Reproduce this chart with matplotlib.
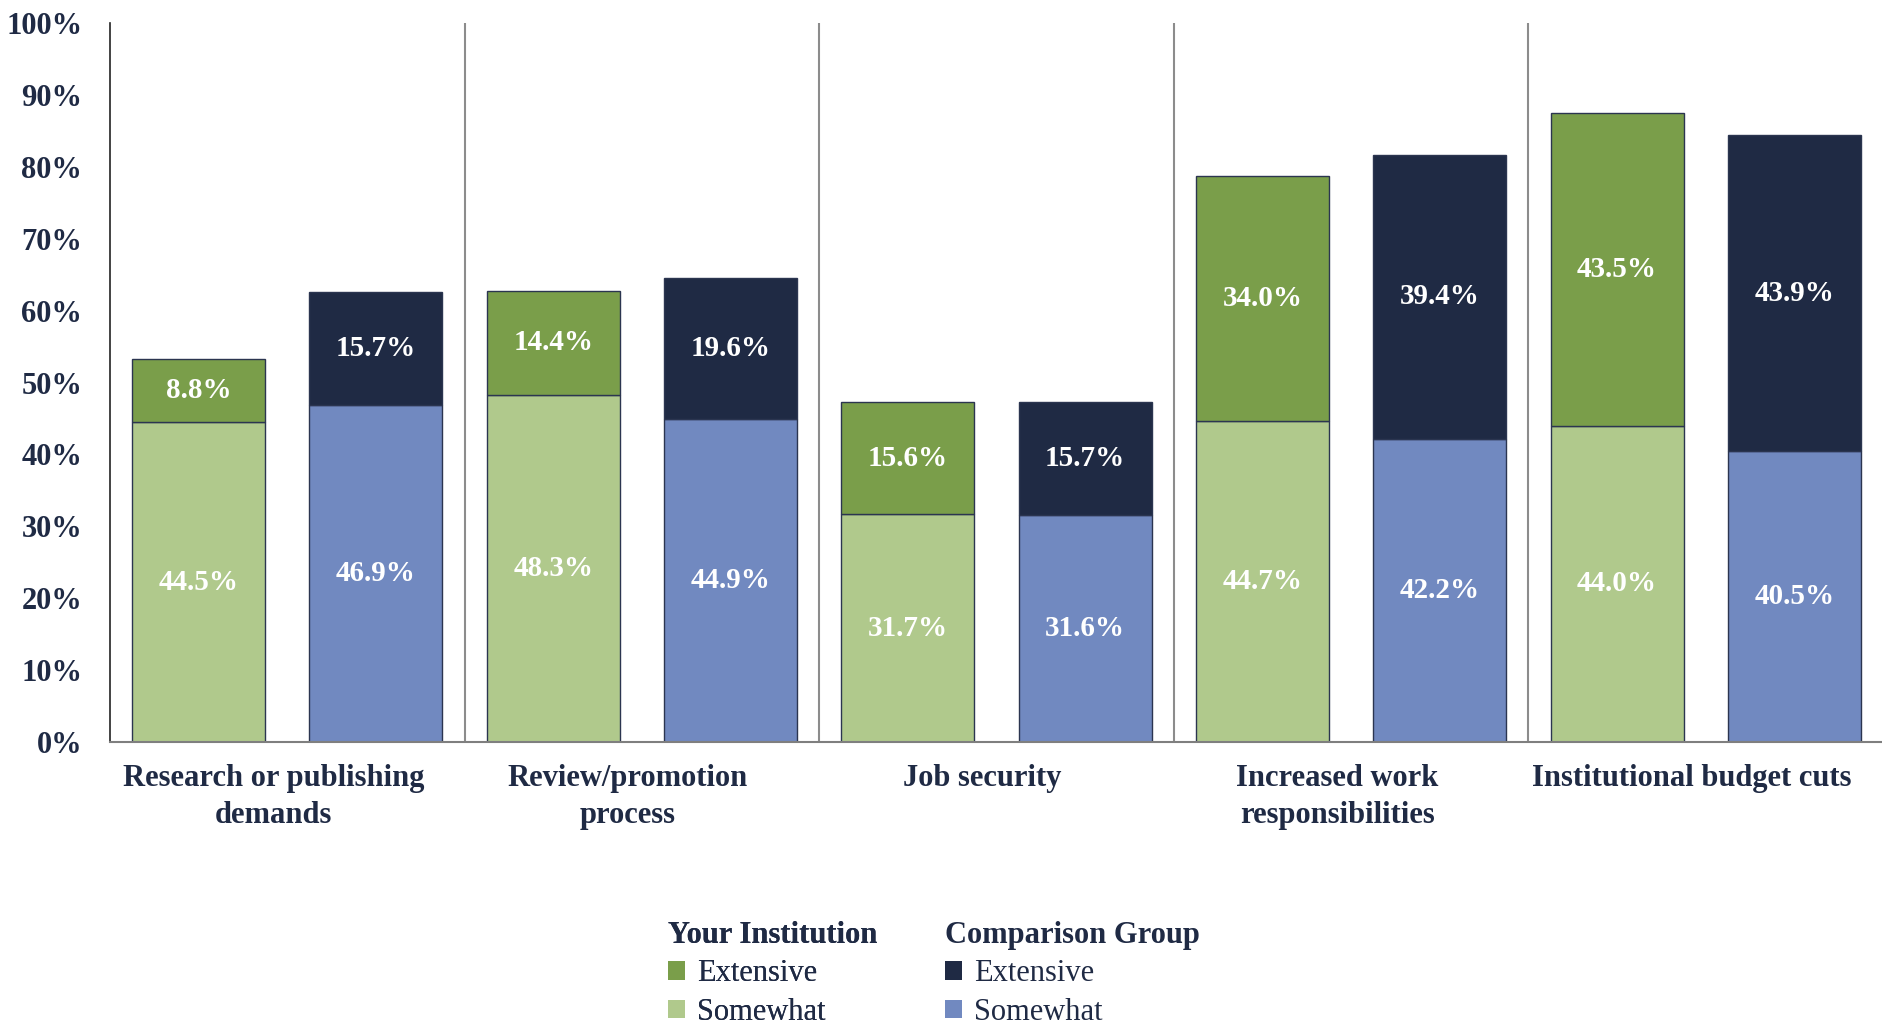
import matplotlib
matplotlib.use("Agg")
import matplotlib.pyplot as plt
from matplotlib.patches import Patch
from matplotlib.transforms import ScaledTranslation
import numpy as np

categories = ["Research or publishing\ndemands", "Review/promotion\nprocess", "Job security",
              "Increased work\nresponsibilities", "Institutional budget cuts"]
inst_somewhat = [44.5, 48.3, 31.7, 44.7, 44.0]
inst_extensive = [8.8, 14.4, 15.6, 34.0, 43.5]
comp_somewhat = [46.9, 44.9, 31.6, 42.2, 40.5]
comp_extensive = [15.7, 19.6, 15.7, 39.4, 43.9]
yticks = [0, 10, 20, 30, 40, 50, 60, 70, 80, 90, 100]

NAVY = "#1f2a44"
C_IEXT = "#7a9e4a"
C_ISOM = "#b0c98c"
C_CEXT = "#1f2a44"
C_CSOM = "#7189c0"
EDGE = "#2b3550"

plt.rcParams['font.family'] = ['Liberation Serif', 'DejaVu Serif']

fig = plt.figure(figsize=(18.83, 10.24), dpi=100)
ax = fig.add_axes([0.0584, 0.2754, 0.9416, 0.7021])

x = np.arange(len(categories))
w = 0.375
xi = x - 0.25
xc = x + 0.25

b1 = ax.bar(xi, inst_somewhat, w, color=C_ISOM, edgecolor=EDGE, linewidth=1)
b2 = ax.bar(xi, inst_extensive, w, bottom=inst_somewhat, color=C_IEXT, edgecolor=EDGE, linewidth=1)
b3 = ax.bar(xc, comp_somewhat, w, color=C_CSOM, edgecolor=EDGE, linewidth=1)
b4 = ax.bar(xc, comp_extensive, w, bottom=comp_somewhat, color=C_CEXT, edgecolor=EDGE, linewidth=1)

for bars in (b1, b2, b3, b4):
    ax.bar_label(bars, labels=[f"{b.get_height():.1f}%" for b in bars], label_type='center',
                 color='white', fontsize=21, fontweight='bold')

for s in np.arange(0.5, len(categories) - 0.5, 1.0):
    ax.axvline(s, color='#8c8c8c', lw=1.5, zorder=0)

ax.set_xlim(-0.5, len(categories) - 0.5)
ax.set_ylim(0, 100)
ax.set_yticks(yticks)
ax.set_yticklabels([f"{v}%" for v in yticks])
ax.set_xticks(x)
ax.set_xticklabels(categories, linespacing=1.37)
ax.tick_params(axis='both', length=0, colors=NAVY, labelsize=22)
ax.tick_params(axis='y', pad=20)
ax.tick_params(axis='x', pad=16)
for lab in ax.get_xticklabels() + ax.get_yticklabels():
    lab.set_fontweight('bold')
    lab.set_color(NAVY)
off = ScaledTranslation(-14 / 100, 0, fig.dpi_scale_trans)
for lab in ax.get_xticklabels():
    lab.set_transform(lab.get_transform() + off)

for sp in ('top', 'right'):
    ax.spines[sp].set_visible(False)
ax.spines['left'].set_color('#222222')
ax.spines['left'].set_linewidth(1.2)
ax.spines['bottom'].set_color('#7f7f7f')
ax.spines['bottom'].set_linewidth(1.5)

def make_legend(title, colors, anchor):
    handles = [Patch(facecolor=colors[0]), Patch(facecolor=colors[1])]
    leg = fig.legend(handles, ["Extensive", "Somewhat"], title=title, loc='upper left',
                     bbox_to_anchor=anchor, frameon=False, fontsize=22,
                     title_fontsize=22, handlelength=0.55, handleheight=0.55,
                     handletextpad=0.4, labelspacing=0.32, borderaxespad=0,
                     alignment='left')
    leg.get_title().set_fontweight('bold')
    leg.get_title().set_color(NAVY)
    for t in leg.get_texts():
        t.set_color(NAVY)
    return leg

l1 = make_legend("Your Institution", [C_IEXT, C_ISOM], (0.3485, 0.113))
fig.add_artist(l1)
l2 = make_legend("Comparison Group", [C_CEXT, C_CSOM], (0.4955, 0.113))

fig.savefig("out.png", dpi=100)
